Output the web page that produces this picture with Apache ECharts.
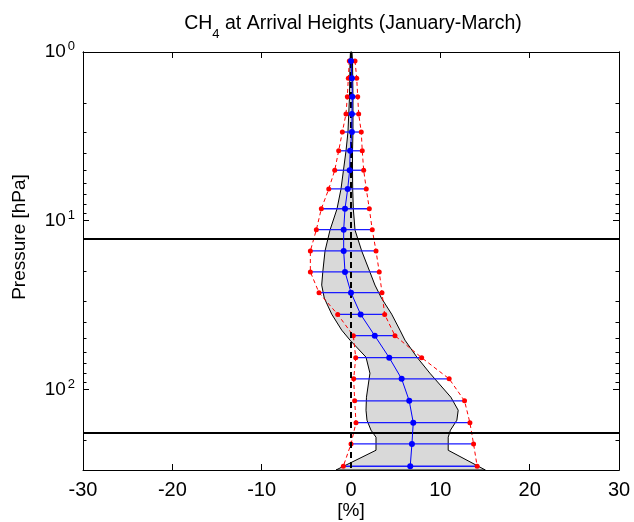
<!DOCTYPE html>
<html>
<head>
<meta charset="utf-8">
<script src="https://cdn.jsdelivr.net/npm/echarts@6/dist/echarts.min.js"></script>
<style>
  html, body { margin: 0; padding: 0; background: #fff; }
  #chart { width: 634px; height: 522px; }
</style>
</head>
<body>
<div id="chart"></div>
<script>
// retrieval levels [hPa]
const pressure = [1.13, 1.43, 1.84, 2.33, 2.98, 3.85, 5.02, 6.48, 8.49, 11.3, 15.1,
  20.1, 26.7, 35.9, 48.0, 64.8, 86.5, 116.8, 157.3, 210.2, 285.1];
// mean difference [%]
const meanDiff = [0.0, 0.1, 0.15, 0.1, 0.1, -0.1, -0.15, -0.37, -0.67, -0.82, -0.82,
  -0.67, 0.0, 1.08, 2.66, 4.28, 5.67, 6.52, 6.97, 6.82, 6.63];
// minimum / maximum [%]
const minDiff = [-0.19, -0.3, -0.41, -0.56, -0.97, -1.38, -1.82, -2.49, -3.32, -3.88, -4.55,
  -4.55, -3.58, -1.49, 0.26, 0.53, 0.3, 0.41, 0.56, 0.0, -0.86];
const maxDiff = [0.45, 0.64, 0.75, 0.86, 1.15, 1.26, 1.42, 1.71, 2.05, 2.38, 2.8,
  3.16, 3.47, 3.77, 4.92, 7.91, 10.99, 12.71, 13.31, 13.72, 14.12];
// grey envelope (std. dev.)
const envPressure = [1.0, 1.13, 1.85, 2.98, 3.86, 5.0, 6.49, 8.52, 11.36, 15.12, 20.15,
  24.06, 28.74, 35.76, 44.5, 51.0, 64.33, 80.07, 111.1, 132.7, 152.1, 174.3, 191.8, 229.1, 300];
const envLow = [-0.06, -0.11, -0.17, -0.34, -0.56, -0.84, -1.12, -1.57, -2.35, -2.91, -3.16,
  -3.28, -2.99, -2.16, -1.04, -0.11, 1.68, 2.12, 1.73, 1.68, 1.79, 2.24, 2.8, 2.8, -1.68];
const envHigh = [0.11, 0.17, 0.22, 0.22, 0.17, 0.17, 0.19, 0.26, 0.45, 1.2, 2.12,
  2.68, 3.41, 4.55, 5.48, 6.04, 7.38, 8.83, 11.18, 12.0, 11.85, 11.13, 10.88, 10.88, 15.04];
// tropopause / layer boundaries [hPa]
const refLines = [12.8, 180];
// y ticks
const majorTicks = [1, 10, 100];
const minorTicks = [2, 3, 4, 5, 6, 7, 8, 9, 20, 30, 40, 50, 60, 70, 80, 90, 200, 300];

const chart = echarts.init(document.getElementById('chart'));

const font = 'Liberation Sans, Arial, sans-serif';

function logLabel (v) {
  const e = Math.round(Math.log10(v));
  return '{b|10}{s|' + e + '}';
}

function yAxisDef (pos, ticks, len, extra) {
  return Object.assign({
    type: 'log',
    logBase: 10,
    min: 1,
    max: 300,
    inverse: true,
    position: pos,
    axisLine: { show: true, onZero: false, lineStyle: { color: '#000', width: 1 } },
    axisTick: { show: true, inside: true, length: len, customValues: ticks, lineStyle: { color: '#000' } },
    axisLabel: { show: false },
    splitLine: { show: false }
  }, extra || {});
}

const option = {
  animation: false,
  backgroundColor: '#fff',
  title: {
    text: 'CH{sub|4} at Arrival Heights (January-March)',
    left: 348,
    top: 9,
    textAlign: 'center',
    textStyle: {
      fontFamily: font,
      fontSize: 19.5,
      fontWeight: 'normal',
      color: '#000',
      rich: {
        sub: { fontSize: 13, fontFamily: font, verticalAlign: 'bottom', padding: [0, 0, -7, 0] }
      }
    }
  },
  grid: { left: 83, right: 15, top: 52, bottom: 52, outerBoundsMode: 'none', containLabel: false },
  xAxis: [
    {
      type: 'value',
      min: -30,
      max: 30,
      interval: 10,
      position: 'bottom',
      name: '[%]',
      nameLocation: 'middle',
      nameGap: 31,
      nameMoveOverlap: false,
      nameTextStyle: { fontFamily: font, fontSize: 19, color: '#000' },
      axisLine: { show: true, onZero: false, lineStyle: { color: '#000', width: 1 } },
      axisTick: { show: true, inside: true, length: 6, lineStyle: { color: '#000' } },
      axisLabel: { fontFamily: font, fontSize: 20, color: '#000', margin: 10 },
      splitLine: { show: false }
    },
    {
      type: 'value',
      min: -30,
      max: 30,
      interval: 10,
      position: 'top',
      axisLine: { show: true, onZero: false, lineStyle: { color: '#000', width: 1 } },
      axisTick: { show: true, inside: true, length: 6, lineStyle: { color: '#000' } },
      axisLabel: { show: false },
      splitLine: { show: false }
    }
  ],
  yAxis: [
    yAxisDef('left', majorTicks, 6, {
      name: 'Pressure [hPa]',
      nameLocation: 'middle',
      nameGap: 54,
      nameMoveOverlap: false,
      nameTextStyle: { fontFamily: font, fontSize: 19, color: '#000', padding: [0, 0, 0, 48] },
      axisLabel: {
        show: true,
        customValues: majorTicks,
        formatter: logLabel,
        margin: 8,
        rich: {
          b: { fontFamily: font, fontSize: 19, color: '#000', lineHeight: 24 },
          s: { fontFamily: font, fontSize: 13, color: '#000', verticalAlign: 'top', padding: [0, 0, 0, 2] }
        }
      }
    }),
    yAxisDef('right', majorTicks, 6),
    yAxisDef('left', minorTicks, 3.5),
    yAxisDef('right', minorTicks, 3.5)
  ],
  series: [
    {
      // grey envelope
      type: 'custom',
      data: [[0, 1]],
      z: 1,
      silent: true,
      renderItem: function (params, api) {
        const pts = [];
        for (let i = 0; i < envPressure.length; i++) pts.push(api.coord([envLow[i], envPressure[i]]));
        for (let i = envPressure.length - 1; i >= 0; i--) pts.push(api.coord([envHigh[i], envPressure[i]]));
        return {
          type: 'polygon',
          shape: { points: pts },
          style: { fill: '#d9d9d9', stroke: '#000', lineWidth: 1 }
        };
      }
    },
    {
      // min/max bars
      type: 'custom',
      z: 3,
      silent: true,
      data: pressure.map((p, i) => [minDiff[i], maxDiff[i], p]),
      encode: { x: [0, 1], y: 2 },
      renderItem: function (params, api) {
        const a = api.coord([api.value(0), api.value(2)]);
        const b = api.coord([api.value(1), api.value(2)]);
        return {
          type: 'line',
          shape: { x1: a[0], y1: a[1], x2: b[0], y2: b[1] },
          style: { stroke: '#1a1aff', lineWidth: 1.3 }
        };
      }
    },
    {
      name: 'min',
      type: 'line',
      z: 4,
      data: pressure.map((p, i) => [minDiff[i], p]),
      symbol: 'circle',
      symbolSize: 5,
      itemStyle: { color: '#ff0000' },
      lineStyle: { color: '#ff0000', width: 1, type: [4, 3] }
    },
    {
      name: 'max',
      type: 'line',
      z: 4,
      data: pressure.map((p, i) => [maxDiff[i], p]),
      symbol: 'circle',
      symbolSize: 5,
      itemStyle: { color: '#ff0000' },
      lineStyle: { color: '#ff0000', width: 1, type: [4, 3] }
    },
    {
      name: 'mean',
      type: 'line',
      z: 5,
      data: pressure.map((p, i) => [meanDiff[i], p]),
      symbol: 'circle',
      symbolSize: 6,
      itemStyle: { color: '#0000ff' },
      lineStyle: { color: '#0000ff', width: 1 },
      markLine: {
        silent: true,
        symbol: 'none',
        label: { show: false },
        animation: false,
        data: [
          { xAxis: 0, lineStyle: { color: '#000', width: 2, type: [6, 4] } }
        ].concat(refLines.map(v => ({ yAxis: v, lineStyle: { color: '#000', width: 2, type: 'solid' } })))
      }
    }
  ]
};

chart.setOption(option);
</script>
</body>
</html>
